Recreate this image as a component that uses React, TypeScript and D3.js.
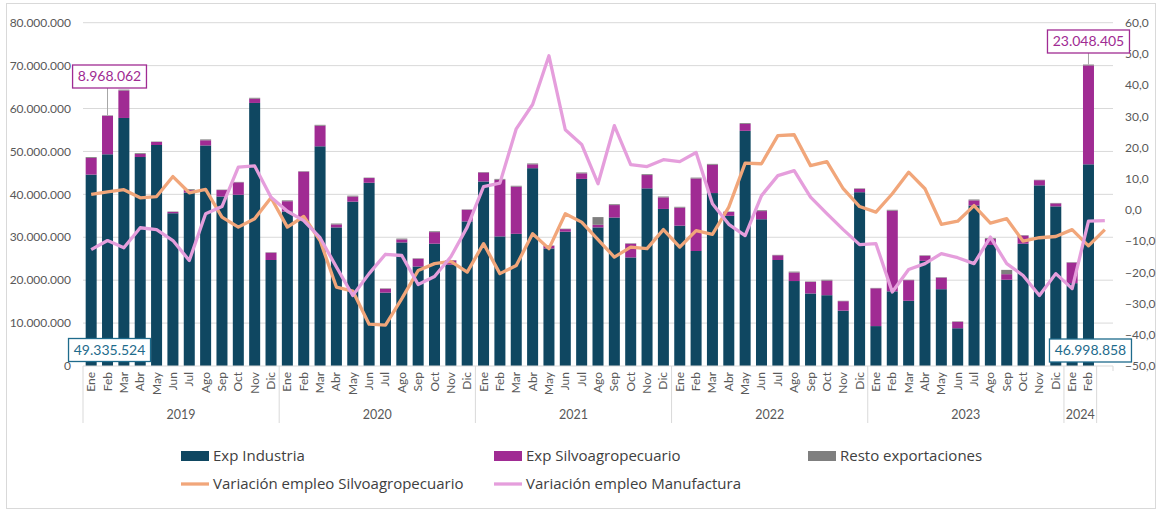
import React from 'react';
import * as d3 from 'd3';

// meses (el último espacio queda vacío, solo llevan valor las líneas)
const months = ['Ene', 'Feb', 'Mar', 'Abr', 'May', 'Jun', 'Jul', 'Ago', 'Sep', 'Oct', 'Nov', 'Dic'];
const years = ['2019', '2020', '2021', '2022', '2023', '2024'];
const yearCounts = [12, 12, 12, 12, 12, 2];

// exportaciones en millones
const expIndustria = [
  44.6, 49.335524, 57.8, 48.7, 51.5, 35.6, 40.4, 51.4, 39.5, 39.9, 61.3, 24.7,
  36.0, 34.0, 51.2, 32.3, 38.3, 42.7, 17.1, 28.8, 23.2, 28.5, 23.6, 33.7,
  43.0, 30.2, 30.8, 46.1, 27.4, 31.3, 43.6, 32.3, 34.6, 25.3, 41.4, 36.6,
  32.7, 26.8, 40.3, 35.0, 54.8, 34.2, 24.7, 19.8, 16.9, 16.5, 12.9, 40.5,
  9.3, 17.4, 15.2, 24.5, 17.9, 8.8, 37.4, 28.2, 20.1, 28.5, 42.1, 37.2,
  19.3, 46.998858,
];
const expSilvo = [
  3.9, 8.968062, 6.4, 0.7, 0.7, 0.3, 0.6, 1.2, 1.5, 2.9, 1.0, 1.7,
  2.4, 11.3, 4.8, 0.7, 1.2, 1.1, 0.9, 0.7, 1.8, 2.7, 1.0, 2.7,
  2.1, 13.2, 11.0, 0.9, 0.6, 0.6, 1.3, 0.6, 2.9, 3.2, 3.1, 2.7,
  4.2, 16.9, 6.6, 0.9, 1.6, 1.9, 1.1, 2.0, 2.7, 3.4, 2.2, 0.8,
  8.8, 18.8, 4.8, 1.2, 2.7, 1.5, 1.2, 1.4, 1.3, 1.9, 1.2, 0.7,
  4.8, 23.048405,
];
const expResto = [
  0.2, 0.1, 0.2, 0.2, 0.1, 0.1, 0.2, 0.2, 0.1, 0.1, 0.2, 0.1,
  0.2, 0.1, 0.2, 0.2, 0.2, 0.1, 0.1, 0.2, 0.1, 0.2, 0.1, 0.1,
  0.1, 0.2, 0.2, 0.2, 0.1, 0.1, 0.2, 1.8, 0.2, 0.1, 0.2, 0.2,
  0.2, 0.2, 0.2, 0.1, 0.2, 0.2, 0.1, 0.2, 0.1, 0.2, 0.1, 0.1,
  0.1, 0.2, 0.1, 0.1, 0.1, 0.1, 0.2, 0.2, 1.0, 0.1, 0.1, 0.1,
  0.1, 0.2,
];

// variación del empleo (%)
const varSilvo = [
  5.0, 5.8, 6.5, 3.9, 4.3, 10.7, 5.5, 6.6, -2.3, -5.5, -2.8, 3.9,
  -5.5, -2.1, -9.8, -24.7, -26.0, -36.6, -36.9, -28.4, -19.4, -17.2, -16.5, -19.9,
  -10.8, -20.4, -17.8, -7.6, -12.4, -1.2, -3.9, -9.5, -15.1, -11.9, -12.4, -6.3,
  -11.9, -6.6, -7.8, 0.9, 15.0, 14.8, 23.8, 24.1, 14.2, 15.5, 6.8, 1.1,
  -0.7, 5.2, 12.1, 6.8, -4.6, -3.6, 1.4, -4.2, -2.8, -10.0, -8.9, -8.5,
  -6.3, -11.5, -6.3,
];
const varManuf = [
  -12.7, -9.8, -12.1, -5.7, -6.3, -9.8, -16.2, -1.2, 1.1, 13.7, 14.1, 4.1,
  -0.4, -3.4, -8.9, -18.3, -27.4, -20.4, -14.2, -14.6, -23.9, -21.3, -15.0, -5.5,
  7.5, 8.6, 26.0, 33.8, 49.4, 25.7, 21.0, 8.4, 27.0, 14.5, 13.9, 16.1,
  15.5, 18.4, 2.0, -4.6, -8.2, 4.6, 11.0, 12.6, 4.1, -1.2, -6.3, -11.1,
  -10.8, -26.3, -19.1, -17.2, -14.0, -15.3, -17.2, -8.7, -17.2, -21.0, -27.4, -20.4,
  -25.2, -3.6, -3.4,
];

const leftTicks = [0, 10, 20, 30, 40, 50, 60, 70, 80];
const rightTicks = [60, 50, 40, 30, 20, 10, 0, -10, -20, -30, -40, -50];

const C_IND = '#0F4761';
const C_SIL = '#A02B93';
const C_RES = '#7F7F7F';
const C_ORA = '#F1A67A';
const C_PIN = '#E59EDC';
const C_TEAL = '#1E6B8C';
const GRID = '#D9D9D9';
const TXT = '#595959';
const FONT = 'Lato, "Open Sans", sans-serif';

const loc = d3.formatLocale({ decimal: ',', thousands: '.', grouping: [3], currency: ['', ''] });
const fmtInt = loc.format(',.0f');
const fmtDec = loc.format('.1f');

export default function App() {
  const left = 83, right = 1113, top = 22.7, bottom = 366;
  const nSlots = varSilvo.length; // 63
  const monthLabels = d3.range(nSlots).map((i) => (i < expIndustria.length ? months[i % 12] : ''));

  const x = d3.scaleBand<number>().domain(d3.range(nSlots)).range([left, right]).paddingInner(0.327).paddingOuter(0.1635);
  const step = x.step();
  const cx = (i: number) => (x(i) as number) + x.bandwidth() / 2;
  const yL = d3.scaleLinear().domain([0, 80]).range([bottom, top]);
  const yR = d3.scaleLinear().domain([-50, 60]).range([bottom, top]);

  const rows = expIndustria.map((v, i) => ({ i, ind: v, sil: expSilvo[i], res: expResto[i] }));
  const stack = d3.stack<any>().keys(['ind', 'sil', 'res'])(rows);
  const colors = [C_IND, C_SIL, C_RES];

  const line = d3.line<number>().x((_, i) => cx(i)).y((d) => yR(d));

  // cortes de año en el eje de categorías
  const bounds: number[] = [0];
  yearCounts.forEach((c) => bounds.push(bounds[bounds.length - 1] + c));

  const iFeb19 = 1, iFeb24 = expIndustria.length - 1;
  const tot = (i: number) => expIndustria[i] + expSilvo[i] + expResto[i];

  const labelBox = (xc: number, yc: number, text: string, color: string) => {
    const w = text.length * 8.1 + 1;
    return (
      <g>
        <rect x={xc - w / 2} y={yc - 11.5} width={w} height={23} fill="white" stroke={color} strokeWidth={1.3} />
        <text x={xc} y={yc} dy="0.35em" textAnchor="middle" fontSize={14} fill={color}>{text}</text>
      </g>
    );
  };

  const legendCols = [181, 494, 808];
  const legendRows = [456, 484];
  const legend = [
    { name: 'Exp Industria', color: C_IND, type: 'bar', c: 0, r: 0 },
    { name: 'Exp Silvoagropecuario', color: C_SIL, type: 'bar', c: 1, r: 0 },
    { name: 'Resto exportaciones', color: C_RES, type: 'bar', c: 2, r: 0 },
    { name: 'Variación empleo Silvoagropecuario', color: C_ORA, type: 'line', c: 0, r: 1 },
    { name: 'Variación empleo Manufactura', color: C_PIN, type: 'line', c: 1, r: 1 },
  ];

  return (
    <svg width={1161} height={510} style={{ position: 'absolute', left: 0, top: 0 }} fontFamily={FONT}>
      <rect x={0} y={0} width={1161} height={510} fill="white" />
      <rect x={6.5} y={3.5} width={1149} height={505} fill="none" stroke={GRID} />

      {/* rejilla */}
      {leftTicks.filter((t) => t > 0).map((t) => (
        <line key={t} x1={left} x2={right} y1={yL(t)} y2={yL(t)} stroke={GRID} strokeWidth={1} />
      ))}

      {/* eje izquierdo */}
      {leftTicks.map((t) => (
        <text key={t} x={71} y={yL(t)} dy="0.35em" textAnchor="end" fontSize={12} fill={TXT}>
          {fmtInt(t * 1e6)}
        </text>
      ))}
      {/* eje derecho */}
      {rightTicks.map((t) => (
        <text key={t} x={1125} y={yR(t)} dy="0.35em" textAnchor="start" fontSize={12} fill={TXT}>
          {fmtDec(t)}
        </text>
      ))}

      {/* barras apiladas */}
      {stack.map((s, k) => (
        <g key={k} fill={colors[k]}>
          {s.map((d, i) => (
            <rect key={i} x={x(i)} width={x.bandwidth()} y={yL(d[1])} height={Math.max(0, yL(d[0]) - yL(d[1]))} />
          ))}
        </g>
      ))}

      {/* líneas */}
      <path d={line(varSilvo) as string} fill="none" stroke={C_ORA} strokeWidth={3.3} strokeLinejoin="round" />
      <path d={line(varManuf) as string} fill="none" stroke={C_PIN} strokeWidth={3.3} strokeLinejoin="round" />

      {/* eje de categorías */}
      <line x1={left} x2={right} y1={bottom} y2={bottom} stroke={GRID} />
      {bounds.map((b, k) => {
        const xb = left + step * b;
        return <line key={k} x1={xb} x2={xb} y1={bottom} y2={423} stroke={GRID} />;
      })}
      <line x1={right} x2={right} y1={bottom} y2={bottom + 5} stroke={GRID} />
      {monthLabels.map((m, i) => (
        <text key={i} transform={`translate(${cx(i) + 4},${bottom + 6}) rotate(-90)`} textAnchor="end" fontSize={12} fill={TXT}>
          {m}
        </text>
      ))}
      {years.map((yv, k) => (
        <text key={yv} x={left + step * (bounds[k] + bounds[k + 1]) / 2} y={415} dy="0.35em" textAnchor="middle" fontSize={12.5} fill={TXT}>
          {yv}
        </text>
      ))}

      {/* etiquetas de datos */}
      <line x1={cx(iFeb19)} x2={cx(iFeb19)} y1={yL(tot(iFeb19))} y2={88} stroke="#A6A6A6" />
      {labelBox(cx(iFeb19) + 2, 76.5, fmtInt(expSilvo[iFeb19] * 1e6), C_SIL)}
      {labelBox(cx(iFeb19) + 2, 350, fmtInt(expIndustria[iFeb19] * 1e6), C_TEAL)}
      <line x1={cx(iFeb24)} x2={cx(iFeb24)} y1={yL(tot(iFeb24))} y2={53} stroke="#A6A6A6" />
      {labelBox(cx(iFeb24), 41.5, fmtInt(expSilvo[iFeb24] * 1e6), C_SIL)}
      {labelBox(cx(iFeb24) + 2, 350.5, fmtInt(expIndustria[iFeb24] * 1e6), C_TEAL)}

      {/* leyenda */}
      {legend.map((l) => {
        const lx = legendCols[l.c], ly = legendRows[l.r];
        return (
          <g key={l.name}>
            {l.type === 'bar' ? (
              <rect x={lx} y={ly - 5} width={28} height={10} fill={l.color} />
            ) : (
              <line x1={lx} x2={lx + 28} y1={ly} y2={ly} stroke={l.color} strokeWidth={3.3} />
            )}
            <text x={lx + 32} y={ly} dy="0.35em" fontSize={15} fontFamily='"Open Sans", sans-serif' fill="#404040">{l.name}</text>
          </g>
        );
      })}
    </svg>
  );
}
